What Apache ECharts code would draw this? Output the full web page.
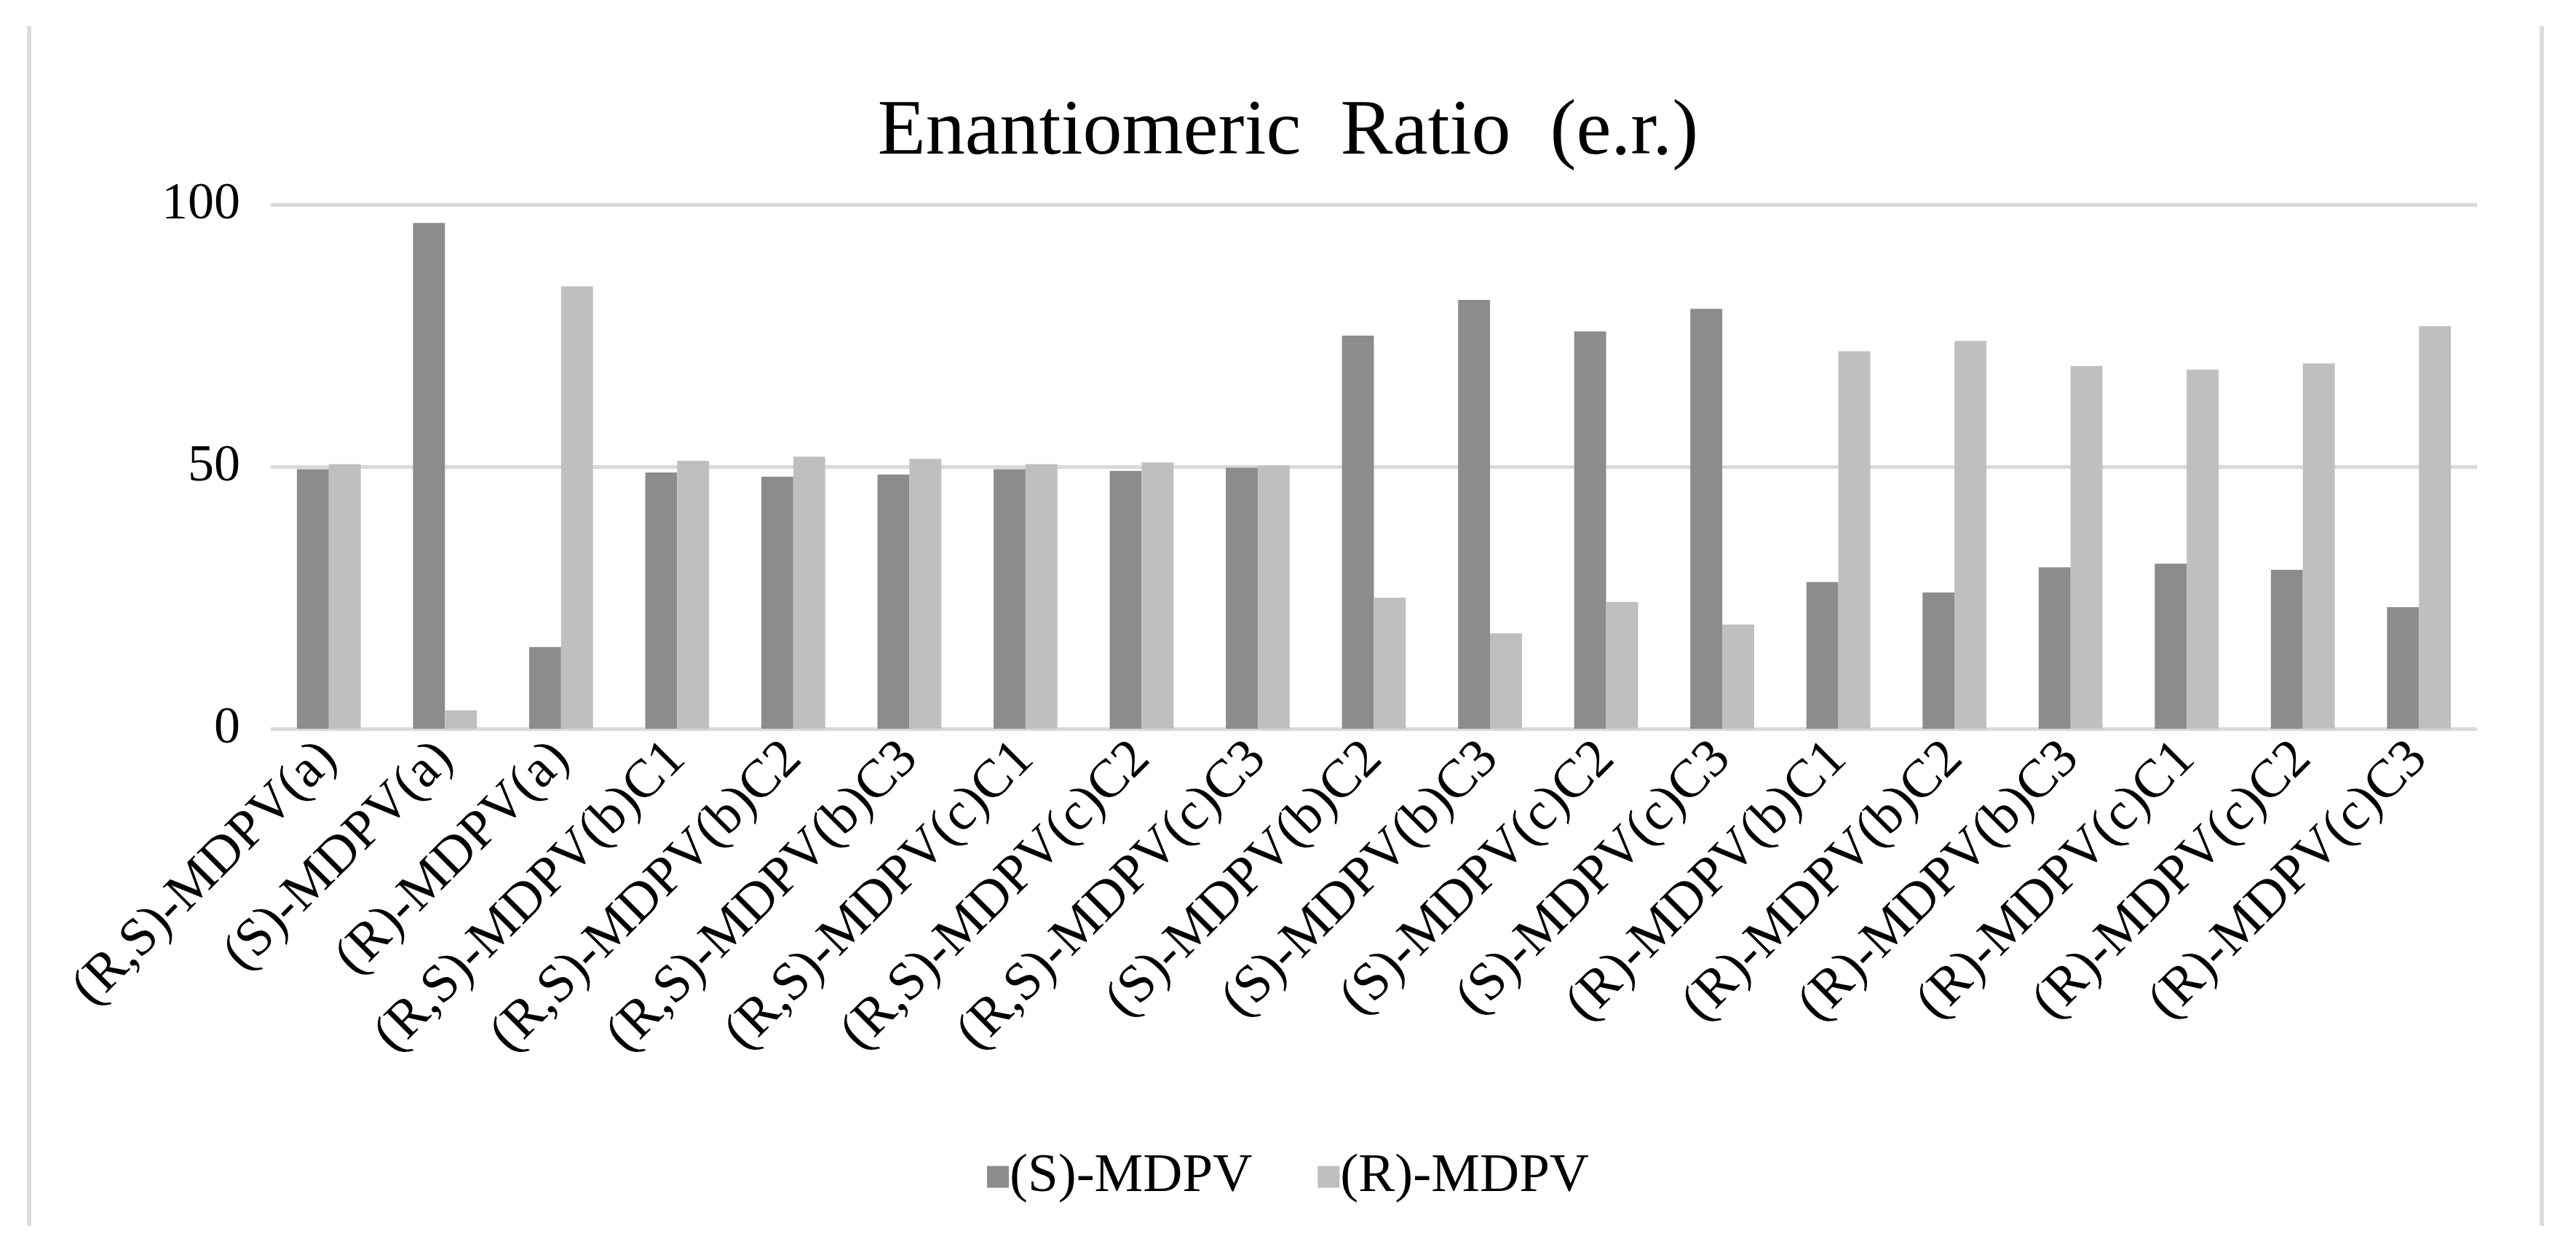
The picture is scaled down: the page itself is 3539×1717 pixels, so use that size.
<!DOCTYPE html>
<html>
<head>
<meta charset="utf-8">
<script src="https://cdn.jsdelivr.net/npm/echarts@6/dist/echarts.min.js"></script>
<style>html,body{margin:0;padding:0;background:#fff;}#chart{width:3539px;height:1717px;}</style>
</head>
<body>
<div id="chart"></div>
<script>
const categories = ["(R,S)-MDPV(a)","(S)-MDPV(a)","(R)-MDPV(a)","(R,S)-MDPV(b)C1","(R,S)-MDPV(b)C2","(R,S)-MDPV(b)C3","(R,S)-MDPV(c)C1","(R,S)-MDPV(c)C2","(R,S)-MDPV(c)C3","(S)-MDPV(b)C2","(S)-MDPV(b)C3","(S)-MDPV(c)C2","(S)-MDPV(c)C3","(R)-MDPV(b)C1","(R)-MDPV(b)C2","(R)-MDPV(b)C3","(R)-MDPV(c)C1","(R)-MDPV(c)C2","(R)-MDPV(c)C3"];
const sMDPV = [49.5,96.5,15.6,48.9,48.1,48.5,49.5,49.2,49.8,75.0,81.8,75.8,80.1,28.0,26.0,30.8,31.5,30.3,23.2];
const rMDPV = [50.5,3.5,84.4,51.1,51.9,51.5,50.5,50.8,50.2,25.0,18.2,24.2,19.9,72.0,74.0,69.2,68.5,69.7,76.8];
const seriesNames = ["(S)-MDPV","(R)-MDPV"];
const yTicks = {min:0,max:100,interval:50};

const font = "'Liberation Serif','Times New Roman',serif";
const chart = echarts.init(document.getElementById('chart'), null, {renderer:'canvas'});
chart.setOption({
  backgroundColor:'#fff',
  animation:false,
  title:{
    text:'Enantiomeric  Ratio  (e.r.)',
    left:'center', top:124,
    textStyle:{fontFamily:font,fontSize:108,fontWeight:'normal',color:'#000'}
  },
  legend:{
    bottom:58, left:'center',
    itemWidth:30, itemHeight:30, itemGap:90,
    icon:'rect',
    textStyle:{fontFamily:font,fontSize:75,color:'#000',padding:[0,0,0,-4]},
    data:seriesNames
  },
  grid:{left:372,right:136,top:281,bottom:716,containLabel:false},
  xAxis:{
    type:'category', data:categories,
    axisLine:{show:false}, axisTick:{show:false},
    axisLabel:{rotate:45,interval:0,margin:30,fontFamily:font,fontSize:74,color:'#000'}
  },
  yAxis:{
    type:'value', min:yTicks.min, max:yTicks.max, interval:yTicks.interval,
    axisLine:{show:false}, axisTick:{show:false},
    axisLabel:{margin:42,fontFamily:font,fontSize:72,color:'#000'},
    splitLine:{lineStyle:{color:'#d9d9d9',width:5}}
  },
  series:[
    {name:seriesNames[0],type:'bar',data:sMDPV,barGap:'0%',barCategoryGap:'45%',itemStyle:{color:'#8c8c8c'}},
    {name:seriesNames[1],type:'bar',data:rMDPV,barGap:'0%',barCategoryGap:'45%',itemStyle:{color:'#bfbfbf'}}
  ],
  graphic:[
    {type:'line',shape:{x1:40,y1:36,x2:40,y2:1684},style:{stroke:'#dcdcdc',lineWidth:6}},
    {type:'line',shape:{x1:3492,y1:36,x2:3492,y2:1684},style:{stroke:'#dcdcdc',lineWidth:6}}
  ]
});
</script>
</body>
</html>
